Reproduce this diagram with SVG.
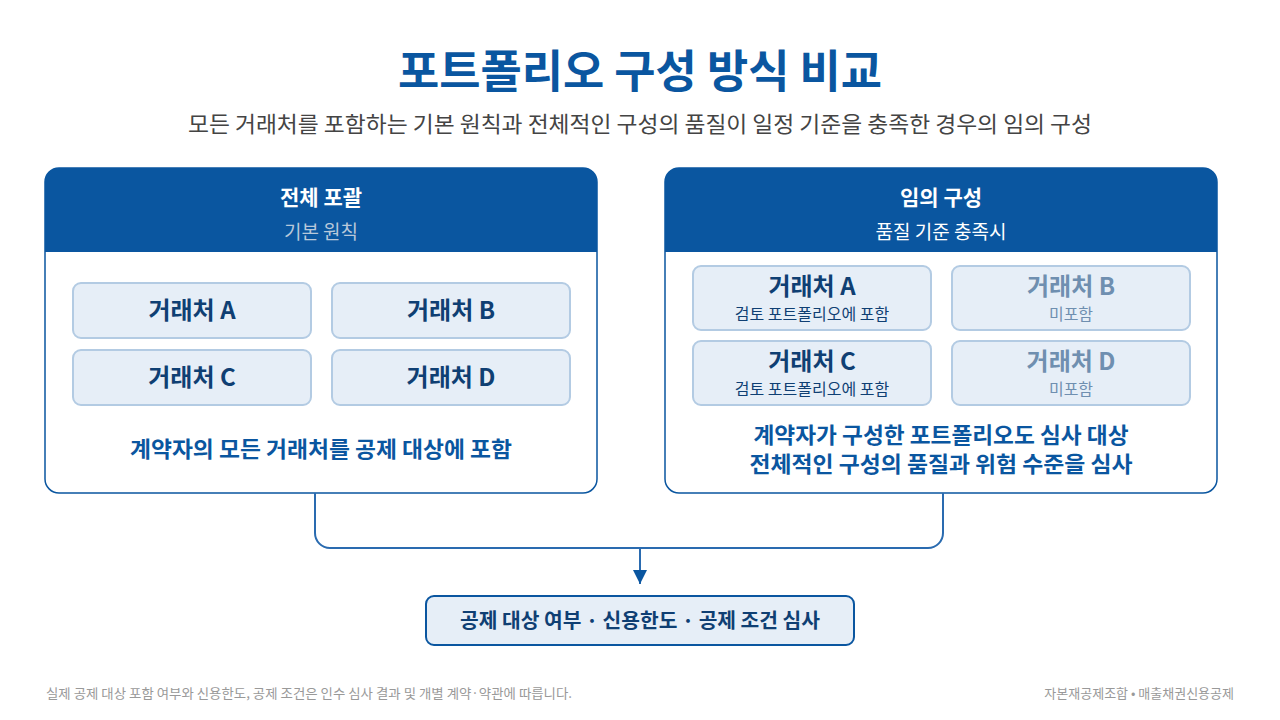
<svg xmlns="http://www.w3.org/2000/svg" width="1280" height="720" viewBox="0 0 1280 720">
<style>
text{font-family:"Noto Sans CJK KR","Noto Sans",sans-serif;text-anchor:middle}
.panel{fill:#fff;stroke:#0a56a0;stroke-width:1.5}
.hdr{fill:#0a56a0}
.card{fill:#e6eef7;stroke:#b3cbe3;stroke-width:2}
.ct{font-size:24px;font-weight:700;fill:#0f3f73}
.cg{font-size:24px;font-weight:700;fill:#6f8fb0}
.cs{font-size:16px;fill:#0f3f73}
.cgs{font-size:16px;fill:#6f8fb0}
.note{font-size:22px;font-weight:700;fill:#0a56a0}
.conn{fill:none;stroke:#2a6bb0;stroke-width:2}
</style>
<defs><marker id="arr" viewBox="0 0 10 10" refX="10" refY="5" markerWidth="14" markerHeight="14" markerUnits="userSpaceOnUse" orient="auto"><path d="M0,0L10,5L0,10z" fill="#0a56a0"/></marker></defs>
<rect width="1280" height="720" fill="#fff"/>
<text x="640" y="88" font-size="45" font-weight="700" fill="#0a56a0" textLength="484" lengthAdjust="spacingAndGlyphs">포트폴리오 구성 방식 비교</text>
<text x="640" y="132" font-size="22" fill="#444" textLength="904" lengthAdjust="spacingAndGlyphs">모든 거래처를 포함하는 기본 원칙과 전체적인 구성의 품질이 일정 기준을 충족한 경우의 임의 구성</text>
<g id="left">
<rect class="panel" x="45" y="168" width="552" height="325" rx="14"/>
<path class="hdr" d="M45,252V182a14,14 0 0 1 14,-14H583a14,14 0 0 1 14,14V252z"/>
<text x="321" y="205" font-size="21" font-weight="700" fill="#fff">전체 포괄</text>
<text x="321" y="239" font-size="19" fill="#b8c8da">기본 원칙</text>
</g>
<g id="lA"><rect class="card" x="73" y="283" width="238" height="55" rx="8"/><text class="ct" x="192" y="319">거래처 A</text></g>
<g id="lB"><rect class="card" x="332" y="283" width="238" height="55" rx="8"/><text class="ct" x="451" y="319">거래처 B</text></g>
<g id="lC"><rect class="card" x="73" y="350" width="238" height="55" rx="8"/><text class="ct" x="192" y="386">거래처 C</text></g>
<g id="lD"><rect class="card" x="332" y="350" width="238" height="55" rx="8"/><text class="ct" x="451" y="386">거래처 D</text></g>
<text class="note" x="321" y="457" textLength="382" lengthAdjust="spacingAndGlyphs">계약자의 모든 거래처를 공제 대상에 포함</text>
<g id="right">
<rect class="panel" x="665" y="168" width="552" height="325" rx="14"/>
<path class="hdr" d="M665,252V182a14,14 0 0 1 14,-14H1203a14,14 0 0 1 14,14V252z"/>
<text x="941" y="205" font-size="21" font-weight="700" fill="#fff">임의 구성</text>
<text x="941" y="239" font-size="19" fill="#fff">품질 기준 충족시</text>
</g>
<g id="rA"><rect class="card" x="693" y="266" width="238" height="64" rx="8"/><text class="ct" x="812" y="295">거래처 A</text><text class="cs" x="812" y="320">검토 포트폴리오에 포함</text></g>
<g id="rB"><rect class="card" x="952" y="266" width="238" height="64" rx="8"/><text class="cg" x="1071" y="295">거래처 B</text><text class="cgs" x="1071" y="320">미포함</text></g>
<g id="rC"><rect class="card" x="693" y="341" width="238" height="64" rx="8"/><text class="ct" x="812" y="370">거래처 C</text><text class="cs" x="812" y="395">검토 포트폴리오에 포함</text></g>
<g id="rD"><rect class="card" x="952" y="341" width="238" height="64" rx="8"/><text class="cg" x="1071" y="370">거래처 D</text><text class="cgs" x="1071" y="395">미포함</text></g>
<text class="note" x="941" y="443" textLength="375" lengthAdjust="spacingAndGlyphs">계약자가 구성한 포트폴리오도 심사 대상</text>
<text class="note" x="941" y="472" textLength="383" lengthAdjust="spacingAndGlyphs">전체적인 구성의 품질과 위험 수준을 심사</text>
<g id="connectors">
<path class="conn" d="M315,493V533a15,15 0 0 0 15,15H928a15,15 0 0 0 15,-15V493"/>
<path class="conn" d="M640,548V584" stroke="#0a56a0" marker-end="url(#arr)"/>
</g>
<g id="result"><rect x="426" y="596" width="428" height="49" rx="8" fill="#e6eef7" stroke="#0a56a0" stroke-width="2"/>
<text x="640" y="628" font-size="20" font-weight="700" fill="#0f3f73" textLength="360" lengthAdjust="spacingAndGlyphs">공제 대상 여부 · 신용한도 · 공제 조건 심사</text></g>
<text x="46" y="698" font-size="13" fill="#999" style="text-anchor:start" textLength="526" lengthAdjust="spacingAndGlyphs">실제 공제 대상 포함 여부와 신용한도, 공제 조건은 인수 심사 결과 및 개별 계약·약관에 따릅니다.</text>
<text x="1234" y="698" font-size="13" fill="#999" style="text-anchor:end">자본재공제조합 • 매출채권신용공제</text>
</svg>
